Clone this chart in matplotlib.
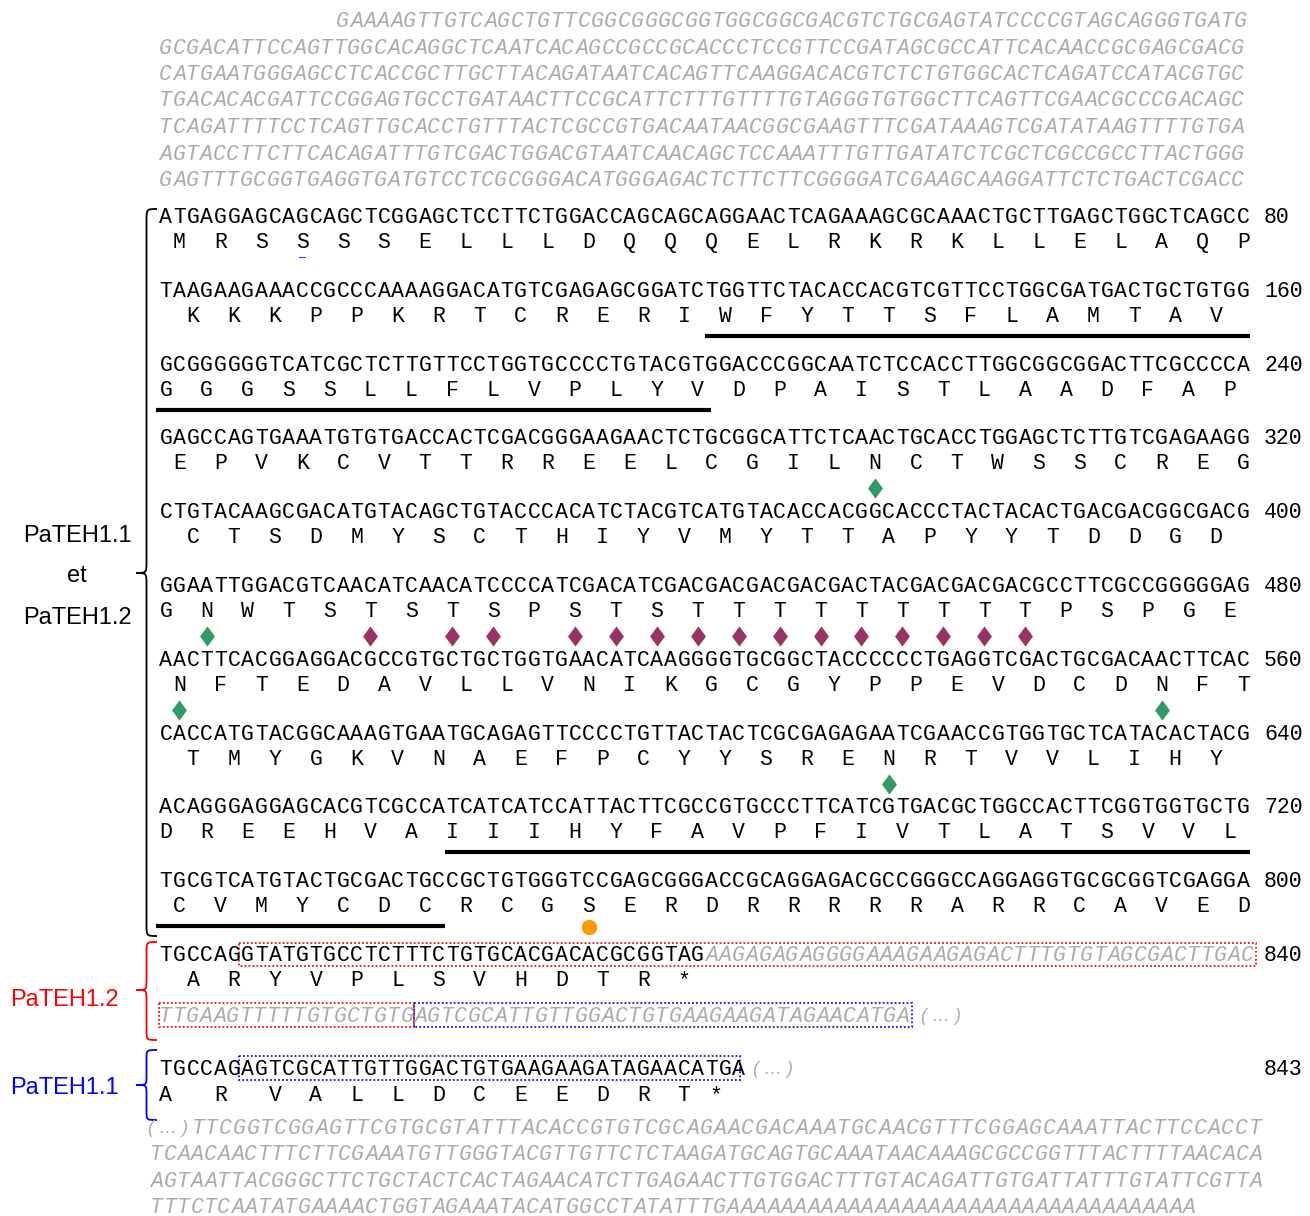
import matplotlib
matplotlib.use('Agg')
import matplotlib.pyplot as plt
from matplotlib.path import Path
from matplotlib.patches import PathPatch, Rectangle

# ---------------- data ----------------
upstream_utr = [
    "GAAAAGTTGTCAGCTGTTCGGCGGGCGGTGGCGGCGACGTCTGCGAGTATCCCCGTAGCAGGGTGATG",
    "GCGACATTCCAGTTGGCACAGGCTCAATCACAGCCGCCGCACCCTCCGTTCCGATAGCGCCATTCACAACCGCGAGCGACG",
    "CATGAATGGGAGCCTCACCGCTTGCTTACAGATAATCACAGTTCAAGGACACGTCTCTGTGGCACTCAGATCCATACGTGC",
    "TGACACACGATTCCGGAGTGCCTGATAACTTCCGCATTCTTTGTTTTGTAGGGTGTGGCTTCAGTTCGAACGCCCGACAGC",
    "TCAGATTTTCCTCAGTTGCACCTGTTTACTCGCCGTGACAATAACGGCGAAGTTTCGATAAAGTCGATATAAGTTTTGTGA",
    "AGTACCTTCTTCACAGATTTGTCGACTGGACGTAATCAACAGCTCCAAATTTGTTGATATCTCGCTCGCCGCCTTACTGGG",
    "GAGTTTGCGGTGAGGTGATGTCCTCGCGGGACATGGGAGACTCTTCTTCGGGGATCGAAGCAAGGATTCTCTGACTCGACC",
]

cds_lines = [
    "ATGAGGAGCAGCAGCTCGGAGCTCCTTCTGGACCAGCAGCAGGAACTCAGAAAGCGCAAACTGCTTGAGCTGGCTCAGCC",
    "TAAGAAGAAACCGCCCAAAAGGACATGTCGAGAGCGGATCTGGTTCTACACCACGTCGTTCCTGGCGATGACTGCTGTGG",
    "GCGGGGGGTCATCGCTCTTGTTCCTGGTGCCCCTGTACGTGGACCCGGCAATCTCCACCTTGGCGGCGGACTTCGCCCCA",
    "GAGCCAGTGAAATGTGTGACCACTCGACGGGAAGAACTCTGCGGCATTCTCAACTGCACCTGGAGCTCTTGTCGAGAAGG",
    "CTGTACAAGCGACATGTACAGCTGTACCCACATCTACGTCATGTACACCACGGCACCCTACTACACTGACGACGGCGACG",
    "GGAATTGGACGTCAACATCAACATCCCCATCGACATCGACGACGACGACGACTACGACGACGACGCCTTCGCCGGGGGAG",
    "AACTTCACGGAGGACGCCGTGCTGCTGGTGAACATCAAGGGGTGCGGCTACCCCCCTGAGGTCGACTGCGACAACTTCAC",
    "CACCATGTACGGCAAAGTGAATGCAGAGTTCCCCTGTTACTACTCGCGAGAGAATCGAACCGTGGTGCTCATACACTACG",
    "ACAGGGAGGAGCACGTCGCCATCATCATCCATTACTTCGCCGTGCCCTTCATCGTGACGCTGGCCACTTCGGTGGTGCTG",
    "TGCGTCATGTACTGCGACTGCCGCTGTGGGTCCGAGCGGGACCGCAGGAGACGCCGGGCCAGGAGGTGCGCGGTCGAGGA",
]

cds_aa = [
    "MRSSSSELLLDQQQELRKRKLLELAQP",
    "KKKPPKRTCRERIWFYTTSFLAMTAV",
    "GGGSSLLFLVPLYVDPAISTLAADFAP",
    "EPVKCVTTRREELCGILNCTWSSCREG",
    "CTSDMYSCTHIYVMYTTAPYYTDDGD",
    "GNWTSTSTSPSTSTTTTTTTTTPSPGE",
    "NFTEDAVLLVNIKGCGYPPEVDCDNFT",
    "TMYGKVNAEFPCYYSRENRTVVLIHY",
    "DREEHVAIIIHYFAVPFIVTLATSVVL",
    "CVMYCDCRCGSERDRRRRRARRCAVED",
]
cds_numbers = ["80", "160", "240", "320", "400", "480", "560", "640", "720", "800"]

teh12_exon = "TGCCAGGTATGTGCCTCTTTCTGTGCACGACACGCGGTAG"
teh12_utr1 = "AAGAGAGAGGGGAAAGAAGAGACTTTGTGTAGCGACTTGAC"
teh12_utr2a = "TTGAAGTTTTTGTGCTGTG"
teh12_utr2b = "AGTCGCATTGTTGGACTGTGAAGAAGATAGAACATGA"
teh12_aa = "ARYVPLSVHDTR*"
teh12_number = "840"

teh11_exon = "TGCCAGAGTCGCATTGTTGGACTGTGAAGAAGATAGAACATGA"
teh11_aa = "ARVALLDCEEDRT*"
teh11_number = "843"

downstream_utr = [
    "TTCGGTCGGAGTTCGTGCGTATTTACACCGTGTCGCAGAACGACAAATGCAACGTTTCGGAGCAAATTACTTCCACCT",
    "TCAACAACTTTCTTCGAAATGTTGGGTACGTTGTTCTCTAAGATGCAGTGCAAATAACAAAGCGCCGGTTTACTTTTAACACA",
    "AGTAATTACGGGCTTCTGCTACTCACTAGAACATCTTGAGAACTTGTGGACTTTGTACAGATTGTGATTATTTGTATTCGTTA",
    "TTTCTCAATATGAAAACTGGTAGAAATACATGGCCTATATTTGAAAAAAAAAAAAAAAAAAAAAAAAAAAAAAAAAAA",
]

# residue indices (0-based, in the protein) carrying annotations
n_glyco_sites = [97, 134, 160, 184, 204]
o_glyco_sites = [138, 140, 141, 143, 144, 145, 146, 147, 148, 149, 150, 151, 152, 153, 154]
phospho_sites = [250]
# transmembrane segments, in nucleotide coordinates of the CDS (start, end)
tm_segments = [(120, 200.5), (661, 741)]

# ---------------- layout ----------------
fig = plt.figure(figsize=(13.1, 12.16), dpi=100)
ax = fig.add_axes([0, 0, 1, 1])
ax.set_xlim(0, 1310)
ax.set_ylim(1216, 0)
ax.axis('off')

MONO = 'Liberation Mono'
SANS = 'Liberation Sans'
FS = 15.5
X0 = 159.0
CW = 13.64
CWG = 13.4
BASE = 7.0
GRAY = '#ababab'
LINE = 80


def seq(s, x0, cw, y, color='black', italic=False):
    for i, ch in enumerate(s):
        if ch == ' ':
            continue
        ax.text(x0 + (i + 0.5) * cw, y + BASE, ch, ha='center', va='baseline',
                family=MONO, fontsize=FS, color=color,
                style='italic' if italic else 'normal')


def ellipsis(x, y):
    ax.text(x, y + 6, "( \u2026 )", ha='left', va='baseline', family=SANS,
            fontsize=13, color=GRAY, style='italic')


# upstream UTR (gray italic)
for i, s in enumerate(upstream_utr):
    y = 20 + 26.5 * i
    x0 = 336 if i == 0 else X0
    seq(s, x0, CWG, y, color=GRAY, italic=True)

# CDS lines
dna_y = [216 + 73.8 * L for L in range(len(cds_lines))]
aa_y = [y + 25 for y in dna_y]
aa_start = []
acc = 0
for a in cds_aa:
    aa_start.append(acc)
    acc += len(a)

for L, s in enumerate(cds_lines):
    seq(s, X0, CW, dna_y[L])
    ax.text(1264, dna_y[L] + BASE, cds_numbers[L], ha='left', va='baseline',
            family=MONO, fontsize=FS)
    for k, ch in enumerate(cds_aa[L]):
        j = aa_start[L] + k
        col = 3 * j + 1 - LINE * L
        ax.text(X0 + (col + 0.5) * CW, aa_y[L] + BASE, ch, ha='center',
                va='baseline', family=MONO, fontsize=FS)


def residue_xy(j):
    for L in range(len(cds_aa)):
        if aa_start[L] <= j < aa_start[L] + len(cds_aa[L]):
            col = 3 * j + 1 - LINE * L
            return X0 + (col + 0.5) * CW, L
    return None


diamond = Path([(0, 1), (0.74, 0), (0, -1), (-0.74, 0), (0, 1)],
               [Path.MOVETO, Path.LINETO, Path.LINETO, Path.LINETO, Path.CLOSEPOLY])

for j in n_glyco_sites:
    x, L = residue_xy(j)
    ax.plot(x, aa_y[L] + 26, marker=diamond, markersize=14.5, color='#339966',
            markeredgewidth=0, linestyle='none')
for j in o_glyco_sites:
    x, L = residue_xy(j)
    ax.plot(x, aa_y[L] + 26, marker=diamond, markersize=14.5, color='#993366',
            markeredgewidth=0, linestyle='none')
for j in phospho_sites:
    x, L = residue_xy(j)
    ax.plot(x, aa_y[L] + 22, marker='o', markersize=11, color='#ff9900',
            markeredgewidth=0, linestyle='none')

# tiny blue tick under residue 4 (as in source figure)
bx, bL = residue_xy(3)
ax.plot([bx - 3, bx + 3], [aa_y[bL] + 16, aa_y[bL] + 16], color='#3333ff', lw=0.8)

# transmembrane bars
for s, e in tm_segments:
    for L in range(len(cds_lines)):
        ls, le = LINE * L, LINE * (L + 1)
        a, b = max(s, ls), min(e, le)
        if a < b:
            xa = X0 + (a - ls) * CW
            xb = X0 + (b - ls) * CW
            if a == ls:
                xa -= 3
            ax.plot([xa, xb], [aa_y[L] + 21, aa_y[L] + 21], color='black',
                    lw=3.0, solid_capstyle='butt')

# ---------------- PaTEH1.2 ----------------
y12 = 954
seq(teh12_exon, X0, CW, y12)
xg = X0 + len(teh12_exon) * CW
seq(teh12_utr1, xg, CWG, y12, color=GRAY, italic=True)
ax.text(1264, y12 + BASE, teh12_number, ha='left', va='baseline', family=MONO, fontsize=FS)
for k, ch in enumerate(teh12_aa):
    col = 2 + 3 * k
    ax.text(X0 + (col + 0.5) * CW, y12 + 25 + BASE, ch, ha='center', va='baseline',
            family=MONO, fontsize=FS)
y12b = 1015
seq(teh12_utr2a, X0, CWG, y12b, color=GRAY, italic=True)
xb2 = X0 + len(teh12_utr2a) * CWG
seq(teh12_utr2b, xb2, CWG, y12b, color=GRAY, italic=True)
xe2 = xb2 + len(teh12_utr2b) * CWG
ellipsis(xe2 + 12, y12b)

dot = (0, (1, 1.2))
ax.add_patch(Rectangle((X0 + 6 * CW - 2, y12 - 11), xg + len(teh12_utr1) * CWG + 2 - (X0 + 6 * CW - 2), 23,
                       fill=False, edgecolor='#ee1111', lw=1.3, linestyle=dot))
ax.add_patch(Rectangle((X0, y12b - 12), xb2 - X0, 24, fill=False, edgecolor='#ee1111',
                       lw=1.3, linestyle=dot))
ax.add_patch(Rectangle((xb2, y12b - 12), xe2 + 3 - xb2, 24, fill=False, edgecolor='#1111dd',
                       lw=1.3, linestyle=dot))

# ---------------- PaTEH1.1 ----------------
y11 = 1068
seq(teh11_exon, X0, CW, y11)
ax.text(1264, y11 + BASE, teh11_number, ha='left', va='baseline', family=MONO, fontsize=FS)
cols11 = [0, 4] + [8 + 3 * k for k in range(len(teh11_aa) - 3)] + [40.3]
for ch, col in zip(teh11_aa, cols11):
    ax.text(X0 + (col + 0.5) * CW, y11 + 26 + BASE, ch, ha='center', va='baseline',
            family=MONO, fontsize=FS)
xe11 = X0 + len(teh11_exon) * CW
ax.add_patch(Rectangle((X0 + 6 * CW - 2, y11 - 12), xe11 - 6 - (X0 + 6 * CW - 2), 24,
                       fill=False, edgecolor='#1111dd', lw=1.3, linestyle=dot))
ellipsis(xe11 + 7, y11)

# downstream UTR
for i, s in enumerate(downstream_utr):
    y = 1127 + 26.3 * i
    if i == 0:
        ellipsis(148, y)
        cw0 = (1262 - 191) / len(s)
        seq(s, 191, cw0, y, color=GRAY, italic=True)
    else:
        seq(s, 150, CWG, y, color=GRAY, italic=True)


# ---------------- braces and labels ----------------
def brace(xr, y0, y1, xtip, color, r=10, ymid=None):
    if ymid is None:
        ymid = (y0 + y1) / 2
    xm = (xr + xtip) / 2
    verts = [(xr, y0), (xm, y0), (xm, y0), (xm, y0 + r),
             (xm, ymid - r),
             (xm, ymid), (xm, ymid), (xtip, ymid),
             (xm, ymid), (xm, ymid), (xm, ymid + r),
             (xm, y1 - r),
             (xm, y1), (xm, y1), (xr, y1)]
    codes = [Path.MOVETO, Path.CURVE4, Path.CURVE4, Path.CURVE4,
             Path.LINETO,
             Path.CURVE4, Path.CURVE4, Path.CURVE4,
             Path.CURVE4, Path.CURVE4, Path.CURVE4,
             Path.LINETO,
             Path.CURVE4, Path.CURVE4, Path.CURVE4]
    ax.add_patch(PathPatch(Path(verts, codes), fill=False, edgecolor=color, lw=1.3))


brace(157, 209, 936, 136, 'black', r=12, ymid=573)
brace(157, 942, 1040, 136, '#ff0000', r=10, ymid=990)
brace(157, 1050, 1120, 136, '#0000ff', r=9, ymid=1085)

ax.text(77, 541.5, 'PaTEH1.1', ha='center', va='baseline', family=SANS, fontsize=17)
ax.text(77, 582, 'et', ha='center', va='baseline', family=SANS, fontsize=17)
ax.text(77, 623.5, 'PaTEH1.2', ha='center', va='baseline', family=SANS, fontsize=17)
ax.text(64, 1006.5, 'PaTEH1.2', ha='center', va='baseline', family=SANS, fontsize=17,
        color='#ff0000')
ax.text(64, 1093.5, 'PaTEH1.1', ha='center', va='baseline', family=SANS, fontsize=17,
        color='#0000ff')

fig.savefig('out.png', dpi=100)
